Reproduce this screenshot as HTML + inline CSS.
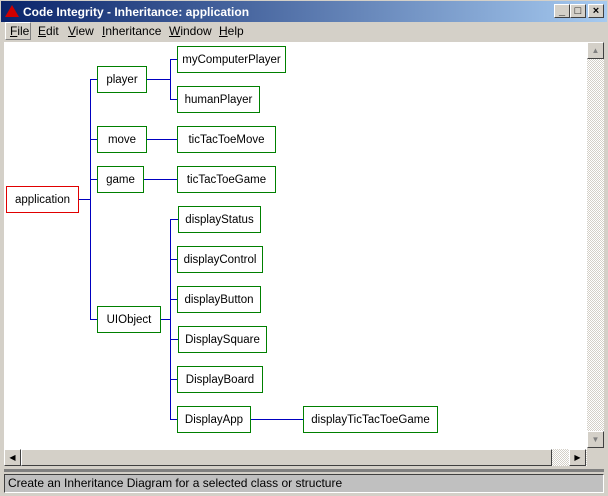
<!DOCTYPE html>
<html><head><style>
*{margin:0;padding:0;box-sizing:border-box}
body{width:608px;height:496px;background:#d4d0c8;position:relative;overflow:hidden;font-family:"Liberation Sans",sans-serif;font-size:11px}
.abs{position:absolute}
.title{left:0;top:0;width:608px;height:22px;background:linear-gradient(90deg,#0a246a,#a6caf0);color:#fff;font-weight:bold;font-size:12px;line-height:22px;padding-left:22px;border:1px solid #d4d0c8;border-bottom:none}
.tb{top:4px;width:16px;height:14px;background:#d4d0c8;border:1px solid;border-color:#fff #404040 #404040 #fff;color:#000;font-size:11px;line-height:12px;text-align:center;font-weight:bold}
.menu{top:22px;height:18px;line-height:18px;font-size:12px;color:#000}
.client{left:4px;top:42px;width:583px;height:407px;background:#fff}
.box{position:absolute;height:27px;border:1px solid #008000;background:#fff;font-size:11.5px;line-height:27px;text-align:center;color:#000}
.bl{position:absolute;background:#0000c0}
.sb{background:#ece9e4;background-image:repeating-conic-gradient(#d4d0c8 0 25%,#fff 0 50%);background-size:2px 2px}
.btn{position:absolute;background:#d4d0c8;border:1px solid;border-color:#fff #404040 #404040 #fff}
</style></head><body>
<div class="abs title">Code Integrity - Inheritance: application</div>
<div class="abs" style="left:5px;top:5px;width:0;height:0;border-left:7px solid transparent;border-right:7px solid transparent;border-bottom:12px solid #d00000"></div>
<div class="abs tb" style="left:554px">_</div>
<div class="abs tb" style="left:570px">□</div>
<div class="abs tb" style="left:588px">×</div>
<div class="abs menu" style="left:5px;width:26px;border:1px solid;border-color:#fff #808080 #808080 #fff;line-height:16px;padding-left:4px"><u>F</u>ile</div>
<div class="abs menu" style="left:38px"><u>E</u>dit</div>
<div class="abs menu" style="left:68px"><u>V</u>iew</div>
<div class="abs menu" style="left:102px"><u>I</u>nheritance</div>
<div class="abs menu" style="left:169px"><u>W</u>indow</div>
<div class="abs menu" style="left:219px"><u>H</u>elp</div>
<div class="abs client"></div>
<div class="abs sb" style="left:587px;top:42px;width:17px;height:406px"></div>
<div class="btn" style="left:587px;top:42px;width:17px;height:17px;color:#808080;font-size:8px;text-align:center;line-height:15px">▲</div>
<div class="btn" style="left:587px;top:431px;width:17px;height:17px;color:#808080;font-size:8px;text-align:center;line-height:15px">▼</div>
<div class="abs sb" style="left:4px;top:449px;width:583px;height:17px"></div>
<div class="btn" style="left:4px;top:449px;width:17px;height:17px;font-size:8px;text-align:center;line-height:15px">◀</div>
<div class="btn" style="left:21px;top:449px;width:531px;height:17px"></div>
<div class="btn" style="left:569px;top:449px;width:17px;height:17px;font-size:8px;text-align:center;line-height:15px">▶</div>
<div class="abs" style="left:4px;top:469px;width:600px;height:3px;background:#808080"></div>
<div class="abs" style="left:4px;top:474px;width:600px;height:19px;background:#c0c0c0;border:1px solid;border-color:#404040 #fff #fff #404040;font-size:12px;line-height:17px;padding-left:3px">Create an Inheritance Diagram for a selected class or structure</div>
<div class="bl" style="left:78px;top:199px;width:13px;height:1px"></div>
<div class="bl" style="left:90px;top:79px;width:1px;height:241px"></div>
<div class="bl" style="left:90px;top:79px;width:7px;height:1px"></div>
<div class="bl" style="left:90px;top:139px;width:7px;height:1px"></div>
<div class="bl" style="left:90px;top:179px;width:7px;height:1px"></div>
<div class="bl" style="left:90px;top:319px;width:7px;height:1px"></div>
<div class="bl" style="left:146px;top:79px;width:25px;height:1px"></div>
<div class="bl" style="left:170px;top:59px;width:1px;height:41px"></div>
<div class="bl" style="left:170px;top:59px;width:7px;height:1px"></div>
<div class="bl" style="left:170px;top:99px;width:7px;height:1px"></div>
<div class="bl" style="left:146px;top:139px;width:31px;height:1px"></div>
<div class="bl" style="left:143px;top:179px;width:34px;height:1px"></div>
<div class="bl" style="left:160px;top:319px;width:11px;height:1px"></div>
<div class="bl" style="left:170px;top:219px;width:1px;height:201px"></div>
<div class="bl" style="left:170px;top:219px;width:8px;height:1px"></div>
<div class="bl" style="left:170px;top:259px;width:7px;height:1px"></div>
<div class="bl" style="left:170px;top:299px;width:7px;height:1px"></div>
<div class="bl" style="left:170px;top:339px;width:8px;height:1px"></div>
<div class="bl" style="left:170px;top:379px;width:7px;height:1px"></div>
<div class="bl" style="left:170px;top:419px;width:7px;height:1px"></div>
<div class="bl" style="left:250px;top:419px;width:53px;height:1px"></div>
<div class="box" style="left:6px;top:186px;width:73px;border-color:#e00000">application</div>
<div class="box" style="left:97px;top:66px;width:50px">player</div>
<div class="box" style="left:97px;top:126px;width:50px">move</div>
<div class="box" style="left:97px;top:166px;width:47px">game</div>
<div class="box" style="left:97px;top:306px;width:64px">UIObject</div>
<div class="box" style="left:177px;top:46px;width:109px">myComputerPlayer</div>
<div class="box" style="left:177px;top:86px;width:83px">humanPlayer</div>
<div class="box" style="left:177px;top:126px;width:99px">ticTacToeMove</div>
<div class="box" style="left:177px;top:166px;width:99px">ticTacToeGame</div>
<div class="box" style="left:178px;top:206px;width:83px">displayStatus</div>
<div class="box" style="left:177px;top:246px;width:86px">displayControl</div>
<div class="box" style="left:177px;top:286px;width:84px">displayButton</div>
<div class="box" style="left:178px;top:326px;width:89px">DisplaySquare</div>
<div class="box" style="left:177px;top:366px;width:86px">DisplayBoard</div>
<div class="box" style="left:177px;top:406px;width:74px">DisplayApp</div>
<div class="box" style="left:303px;top:406px;width:135px">displayTicTacToeGame</div>
</body></html>
